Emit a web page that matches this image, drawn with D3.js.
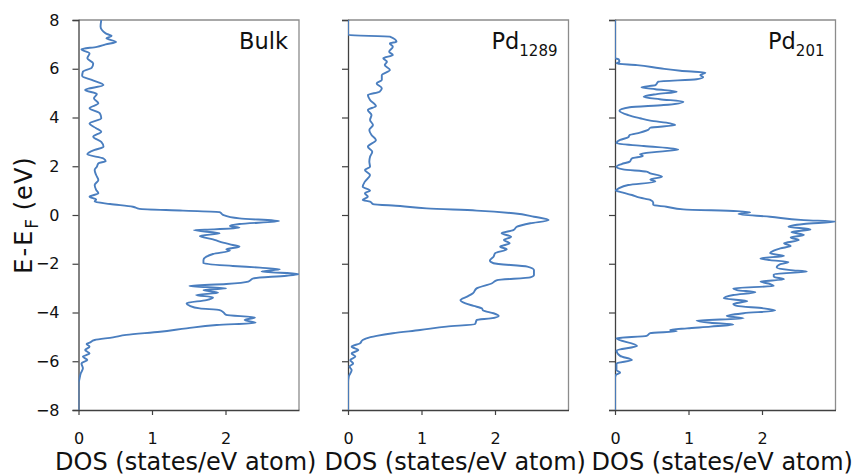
<!DOCTYPE html>
<html><head><meta charset="utf-8">
<script src="https://cdnjs.cloudflare.com/ajax/libs/d3/7.8.5/d3.min.js"></script>
<style>
html,body{margin:0;padding:0;background:#fff;}
svg{display:block;font-family:"DejaVu Sans",Verdana,sans-serif;}
</style></head>
<body><svg id="chart" width="856" height="476"></svg>
<script>
// ---- data (energy E-EF in eV, DOS in states/eV atom) ----
const panelNames = ["Bulk", "Pd", "Pd"];
const panelSubs = ["", "1289", "201"];
const xTicks = [0, 1, 2];
const yTicks = [-8, -6, -4, -2, 0, 2, 4, 6, 8];

const energyBulk = [8,7.73,7.45,7.34,7.25,7.10,7.0,6.9,6.8,6.63,6.43,6.22,6.04,5.88,5.7,5.54,5.33,5.13,4.96,4.79,4.58,4.38,4.17,3.97,3.76,3.56,3.42,3.21,3.0,2.8,2.67,2.49,2.32,2.21,2.12,1.98,1.85,1.64,1.44,1.23,1.03,0.89,0.75,0.64,0.55,0.45,0.34,0.25,0.18,0.12,0.0,-0.14,-0.25,-0.37,-0.45,-0.52,-0.59,-0.62,-0.75,-0.86,-1.0,-1.09,-1.23,-1.3,-1.41,-1.46,-1.6,-1.71,-1.85,-1.98,-2.09,-2.16,-2.23,-2.32,-2.42,-2.49,-2.6,-2.73,-2.83,-2.91,-3.01,-3.08,-3.19,-3.28,-3.38,-3.49,-3.62,-3.72,-3.83,-3.9,-3.99,-4.1,-4.2,-4.31,-4.42,-4.51,-4.65,-4.79,-4.92,-5.02,-5.13,-5.24,-5.29,-5.4,-5.54,-5.68,-5.81,-5.95,-6.09,-6.29,-6.5,-6.77,-6.9,-8];
const dosBulk = [0.31,0.30,0.37,0.45,0.38,0.51,0.37,0.25,0.04,0.15,0.12,0.2,0.18,0.06,0.05,0.18,0.34,0.09,0.25,0.21,0.27,0.15,0.29,0.31,0.15,0.24,0.31,0.2,0.31,0.34,0.22,0.12,0.34,0.37,0.27,0.25,0.22,0.24,0.27,0.22,0.24,0.27,0.15,0.24,0.22,0.43,0.74,0.83,1.42,1.92,1.97,2.19,2.73,2.19,2.06,2.19,1.83,1.57,1.92,1.65,1.83,1.92,2.1,2.19,2.01,2.06,1.83,1.74,1.70,1.70,2.1,2.47,2.74,2.49,3.0,2.83,2.38,2.31,2.01,1.51,2.01,1.70,1.9,1.6,1.83,1.74,1.47,1.51,1.65,1.92,1.97,2.01,2.4,2.26,2.41,1.88,1.47,1.11,0.65,0.47,0.22,0.15,0.11,0.15,0.09,0.15,0.06,0.12,0.04,0.06,0.03,0.01,0,0];

const energyPd1289 = [8,7.38,7.32,7.11,7.04,6.9,6.7,6.56,6.43,6.29,6.15,5.95,5.74,5.54,5.4,5.2,5.06,4.92,4.72,4.47,4.31,4.1,3.9,3.69,3.49,3.28,3.08,2.8,2.6,2.39,2.19,1.98,1.85,1.64,1.37,1.16,1.0,0.89,0.75,0.62,0.55,0.45,0.37,0.27,0.18,0.07,-0.07,-0.21,-0.34,-0.48,-0.62,-0.75,-0.89,-1.03,-1.16,-1.3,-1.41,-1.57,-1.71,-1.87,-1.98,-2.12,-2.26,-2.46,-2.56,-2.67,-2.8,-3.01,-3.21,-3.35,-3.49,-3.62,-3.73,-3.83,-3.92,-4.03,-4.14,-4.24,-4.31,-4.47,-4.58,-4.72,-4.85,-4.96,-5.06,-5.13,-5.27,-5.4,-5.54,-5.68,-5.81,-5.95,-6.09,-6.22,-6.36,-6.63,-6.9,-8];
const dosPd1289 = [0,0,0.57,0.66,0.57,0.61,0.56,0.61,0.48,0.53,0.5,0.57,0.46,0.46,0.39,0.46,0.43,0.27,0.3,0.38,0.27,0.32,0.3,0.34,0.29,0.32,0.38,0.27,0.33,0.3,0.29,0.3,0.23,0.3,0.23,0.2,0.3,0.23,0.27,0.2,0.3,0.34,0.71,1.07,1.75,2.25,2.53,2.73,2.48,2.3,2.25,2.09,2.22,2.12,2.2,2.07,2.16,2.0,1.98,1.93,1.98,2.44,2.53,2.53,2.48,2.03,1.96,1.75,1.7,1.62,1.53,1.59,1.71,1.82,1.84,1.98,2.05,1.94,1.75,1.73,1.34,0.98,0.61,0.39,0.25,0.2,0.16,0.05,0.14,0.05,0.1,0.03,0.07,0.02,0.05,0.01,0,0];

const energyPd201 = [8,6.43,6.39,6.29,6.22,6.15,6.02,5.92,5.84,5.74,5.65,5.57,5.47,5.33,5.24,5.16,5.06,4.96,4.85,4.75,4.65,4.51,4.42,4.28,4.1,3.97,3.87,3.76,3.69,3.58,3.49,3.38,3.28,3.19,3.08,2.94,2.83,2.69,2.6,2.5,2.42,2.32,2.19,2.09,1.98,1.87,1.78,1.71,1.57,1.46,1.37,1.23,1.09,1.0,0.92,0.82,0.71,0.62,0.51,0.41,0.34,0.23,0.16,0.11,0.04,-0.07,-0.21,-0.27,-0.37,-0.48,-0.59,-0.7,-0.82,-0.92,-1.03,-1.16,-1.27,-1.37,-1.46,-1.57,-1.68,-1.78,-1.85,-1.93,-2.02,-2.15,-2.26,-2.32,-2.43,-2.53,-2.64,-2.73,-2.83,-2.91,-3.01,-3.08,-3.17,-3.28,-3.42,-3.53,-3.65,-3.73,-3.83,-3.92,-4.03,-4.14,-4.24,-4.33,-4.42,-4.49,-4.58,-4.65,-4.72,-4.77,-4.85,-4.96,-5.06,-5.37,-5.56,-5.78,-5.95,-6.09,-6.36,-6.47,-6.57,-6.7,-8];
const dosPd201 = [0,0,0.05,0.06,0.02,0.3,0.61,0.89,1.23,1.16,1.2,1.11,0.59,0.55,0.36,0.55,0.84,0.57,0.39,0.61,0.93,0.66,0.2,0.06,0.18,0.34,0.48,0.75,0.82,0.48,0.45,0.34,0.2,0.18,0.07,0.02,0.39,0.86,0.61,0.34,0.38,0.23,0.2,0.09,0.02,0.11,0.43,0.48,0.64,0.48,0.55,0.18,0.05,0.01,0.11,0.23,0.34,0.48,0.52,0.52,0.7,0.93,1.66,1.84,1.68,2.11,2.57,3.0,2.57,2.36,2.66,2.4,2.57,2.39,2.5,2.3,2.39,2.25,2.16,2.11,2.3,1.98,2.11,2.36,2.25,2.2,2.39,2.61,2.16,2.16,2.3,1.98,2.11,2.16,1.61,1.66,1.91,1.61,1.48,1.8,1.61,1.66,2.02,2.18,1.75,1.52,1.75,1.11,1.3,1.61,1.3,0.98,0.75,0.84,0.48,0.43,0.02,0.3,0.02,0.07,0.23,0.02,0.02,0.07,0.01,0,0];

const energies = [energyBulk, energyPd1289, energyPd201];
const doses = [dosBulk, dosPd1289, dosPd201];

// ---- layout ----
const svg = d3.select("#chart");
const panelLeft = [78.5, 348, 615];
const panelW = 220.5;
const plotTop = 20, plotBottom = 410;
const lineColor = "#4a7ebf";

const y = d3.scaleLinear().domain([-8, 8]).range([plotBottom, plotTop]);

const defs = svg.append("defs");

panelLeft.forEach((left, i) => {
  const x = d3.scaleLinear().domain([0, 3]).range([left, left + panelW]);
  const g = svg.append("g");

  defs.append("clipPath").attr("id", "clip" + i)
    .append("rect").attr("x", left).attr("y", plotTop).attr("width", panelW).attr("height", plotBottom - plotTop);

  // top & right border
  g.append("path")
    .attr("d", `M${left},${plotTop}H${left + panelW}V${plotBottom}`)
    .attr("fill", "none").attr("stroke", "#8c8c8c").attr("stroke-width", 1.3);

  // y axis
  const ya = d3.axisLeft(y).tickValues(yTicks).tickSize(6).tickPadding(13)
    .tickFormat(i === 0 ? d3.format("d") : () => "");
  const yg = g.append("g").attr("transform", `translate(${left},0)`).call(ya);
  yg.select(".domain").attr("stroke", "#404040").attr("stroke-width", 1.3);
  yg.selectAll(".tick line").attr("stroke", "#404040").attr("stroke-width", 1.2);
  yg.selectAll(".tick text").attr("font-size", 16).attr("fill", "#111")
    .attr("font-family", "DejaVu Sans, sans-serif");

  // x axis
  const xa = d3.axisBottom(x).tickValues(xTicks).tickSize(5).tickPadding(18)
    .tickSizeOuter(0).tickFormat(d3.format("d"));
  const xg = g.append("g").attr("transform", `translate(0,${plotBottom})`).call(xa);
  xg.select(".domain").attr("stroke", "#404040").attr("stroke-width", 1.3);
  xg.selectAll(".tick line").attr("stroke", "#404040").attr("stroke-width", 1.2);
  xg.selectAll(".tick text").attr("font-size", 16).attr("fill", "#111")
    .attr("font-family", "DejaVu Sans, sans-serif");

  // curve
  const pts = energies[i].map((e, k) => [doses[i][k], e]);
  const line = d3.line().x(d => x(d[0])).y(d => y(d[1])).curve(d3.curveMonotoneY);
  g.append("path").datum(pts)
    .attr("clip-path", `url(#clip${i})`)
    .attr("d", line).attr("fill", "none")
    .attr("stroke", lineColor).attr("stroke-width", 1.9).attr("stroke-linejoin", "round");

  // panel label
  const lab = g.append("text").attr("x", left + panelW - 11).attr("y", 49)
    .attr("text-anchor", "end").attr("font-size", 22.5).attr("fill", "#111");
  lab.append("tspan").text(panelNames[i]);
  if (panelSubs[i]) {
    lab.append("tspan").attr("font-size", 15).attr("dy", 7).text(panelSubs[i]);
  }

  // x axis title
  g.append("text").attr("x", left + panelW / 2 - 3).attr("y", 470)
    .attr("text-anchor", "middle").attr("font-size", 24).attr("fill", "#111")
    .text("DOS (states/eV atom)");
});

// y axis title
const yt = svg.append("text")
  .attr("transform", `translate(32,${(plotTop + plotBottom) / 2}) rotate(-90)`)
  .attr("text-anchor", "middle").attr("font-size", 24).attr("fill", "#111");
yt.append("tspan").attr("letter-spacing", 2).text("E-E");
yt.append("tspan").attr("font-size", 17).attr("dy", 6).text("F");
yt.append("tspan").attr("dy", -6).attr("letter-spacing", 1).text(" (eV)");
</script>
</body></html>
